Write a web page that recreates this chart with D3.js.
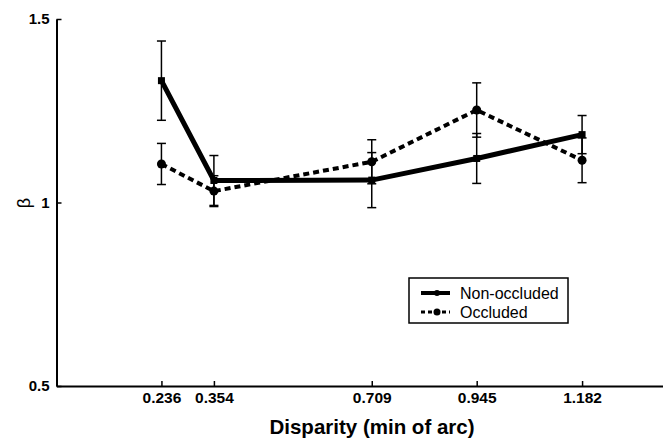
<!DOCTYPE html>
<html>
<head>
<meta charset="utf-8">
<script src="https://cdn.jsdelivr.net/npm/d3@7"></script>
<style>
html,body{margin:0;padding:0;background:#fff;}
svg{display:block;}
</style>
</head>
<body>
<svg id="chart" width="663" height="440"></svg>
<script>
const disparity = [0.236, 0.354, 0.709, 0.945, 1.182];
const tickLabels = ["0.236", "0.354", "0.709", "0.945", "1.182"];
const nonOccluded = [1.332, 1.060, 1.061, 1.120, 1.185];
const nonOccludedErr = [0.108, 0.068, 0.075, 0.068, 0.052];
const occluded = [1.105, 1.031, 1.111, 1.252, 1.115];
const occludedErr = [0.056, 0.042, 0.060, 0.074, 0.061];
const yTicks = [0.5, 1, 1.5];
const yTickLabels = ["0.5", "1", "1.5"];

const svg = d3.select("#chart");
const x = d3.scaleLinear().domain([0, 1.364]).range([56.5, 663]);
const y = d3.scaleLinear().domain([0.5, 1.5]).range([386, 19]);
const font = "'Liberation Sans', Arial, sans-serif";

// axes
const xAxis = d3.axisBottom(x).tickValues(disparity).tickSize(0).tickFormat((d,i)=>tickLabels[i]);
const gx = svg.append("g").attr("transform", "translate(0,386)").call(xAxis);
gx.select(".domain").attr("stroke","#000").attr("stroke-width",2);
gx.selectAll(".tick line").remove();
gx.selectAll(".tick").append("line").attr("y1",0).attr("y2",-5).attr("stroke","#000").attr("stroke-width",1.5);
gx.selectAll(".tick text").attr("y",17).attr("dy",null)
  .style("font-family",font).style("font-size","15.5px").style("font-weight","bold").attr("fill","#000");

const yAxis = d3.axisLeft(y).tickValues(yTicks).tickSize(0).tickFormat((d,i)=>yTickLabels[i]);
const gy = svg.append("g").attr("transform","translate(56.5,0)").call(yAxis);
gy.select(".domain").attr("stroke","#000").attr("stroke-width",2);
gy.selectAll(".tick line").remove();
gy.selectAll(".tick").append("line").attr("x1",0).attr("x2",5).attr("stroke","#000").attr("stroke-width",1.5);
gy.selectAll(".tick text").attr("x",-7)
  .style("font-family",font).style("font-size","15px").style("font-weight","bold").attr("fill","#000");

// axis titles
svg.append("text").attr("x", 372).attr("y", 434).attr("text-anchor","middle")
  .style("font-family",font).style("font-size","20.5px").style("font-weight","bold")
  .text("Disparity (min of arc)");
svg.append("text").attr("transform","translate(30,203) rotate(-90)").attr("text-anchor","middle")
  .style("font-family",font).style("font-size","18px")
  .text("β");

function drawErr(vals, errs) {
  const g = svg.append("g");
  vals.forEach((v,i)=>{
    const cx = x(disparity[i]);
    const t = y(v+errs[i]), b = y(v-errs[i]);
    g.append("line").attr("x1",cx).attr("x2",cx).attr("y1",t).attr("y2",b).attr("stroke","#000").attr("stroke-width",1.5);
    g.append("line").attr("x1",cx-4.5).attr("x2",cx+4.5).attr("y1",t).attr("y2",t).attr("stroke","#000").attr("stroke-width",1.5);
    g.append("line").attr("x1",cx-4.5).attr("x2",cx+4.5).attr("y1",b).attr("y2",b).attr("stroke","#000").attr("stroke-width",1.5);
  });
}
drawErr(nonOccluded, nonOccludedErr);
drawErr(occluded, occludedErr);

const line = d3.line().x((d,i)=>x(disparity[i])).y(d=>y(d));
svg.append("path").datum(occluded).attr("d",line).attr("fill","none").attr("stroke","#000")
  .attr("stroke-width",4).attr("stroke-dasharray","6,4");
svg.append("path").datum(nonOccluded).attr("d",line).attr("fill","none").attr("stroke","#000")
  .attr("stroke-width",5);

svg.append("g").selectAll("circle").data(occluded).join("circle")
  .attr("cx",(d,i)=>x(disparity[i])).attr("cy",d=>y(d)).attr("r",4.5).attr("fill","#000");
svg.append("g").selectAll("rect").data(nonOccluded).join("rect")
  .attr("x",(d,i)=>x(disparity[i])-3.5).attr("y",d=>y(d)-3.5).attr("width",7).attr("height",7).attr("fill","#000");

// legend
const lg = svg.append("g");
lg.append("rect").attr("x",409).attr("y",278).attr("width",159).attr("height",45)
  .attr("fill","#fff").attr("stroke","#000").attr("stroke-width",1.5);
lg.append("line").attr("x1",421).attr("x2",450).attr("y1",293).attr("y2",293).attr("stroke","#000").attr("stroke-width",4);
lg.append("circle").attr("cx",437).attr("cy",293).attr("r",3).attr("fill","#000");
lg.append("line").attr("x1",421).attr("x2",450).attr("y1",312).attr("y2",312).attr("stroke","#000").attr("stroke-width",3).attr("stroke-dasharray","4,3");
lg.append("circle").attr("cx",437).attr("cy",312).attr("r",3.5).attr("fill","#000");
lg.append("text").attr("x",460).attr("y",299).style("font-family",font).style("font-size","16px").text("Non-occluded");
lg.append("text").attr("x",460).attr("y",318).style("font-family",font).style("font-size","16px").text("Occluded");
</script>
</body>
</html>
